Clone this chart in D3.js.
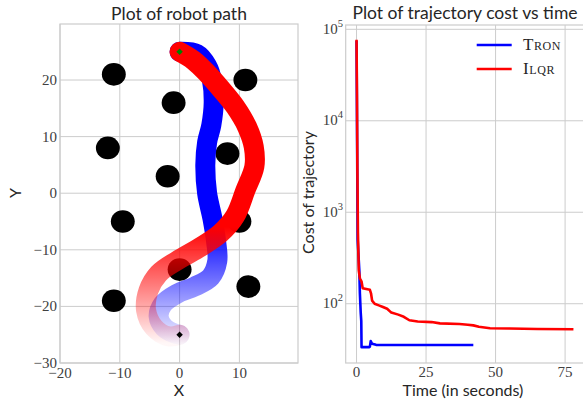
<!DOCTYPE html>
<html>
<head>
<meta charset="utf-8">
<style>
  body { margin: 0; background: #fff; }
  .title, .label { font-family: Lato, "Open Sans", sans-serif; fill: #262626; }
  .tick text { font-family: "Liberation Serif", serif; fill: #404040; font-size: 15px; }
  .legend text { font-family: "Liberation Serif", serif; fill: #262626; font-size: 17px; font-variant: small-caps; letter-spacing: 0.6px; }
</style>
</head>
<body>
<svg width="583" height="407"></svg>
<script src="https://d3js.org/d3.v7.min.js"></script>
<script>
// obstacles (circle centres, radius in data units)
var obstacleX = [-11, 11, -1, -12, 8, -2, -9.5, 10, 0, 11.5, -11];
var obstacleY = [21, 20, 16, 8, 7, 3, -5, -5, -13.5, -16.5, -19];
var obstacleR = 2;

// robot paths, start (0,-25) -> goal (0,25)
var tronPathX = [0, -0.8, -2.6, -3.5, -2.8, -0.5, 2.5, 5.2, 6.3, 6.1, 5.5, 4.6, 4.3, 4.6, 5.3, 5.7, 5.4, 4.6, 2.9, 0];
var tronPathY = [-25, -24.8, -23.7, -21.8, -19.6, -17.8, -16.5, -14.8, -12, -8.5, -4.5, 0, 5, 9, 12, 16, 20, 22.5, 24.6, 25];
var ilqrPathX = [0, -1.8, -4.3, -5.6, -5.2, -3.5, -0.4, 3.5, 6.8, 9.3, 11, 12.5, 12.4, 11.3, 9.3, 7.1, 4.6, 2.3, 0];
var ilqrPathY = [-25, -25.3, -23.7, -20.7, -17.2, -14.2, -11.9, -9.5, -7.1, -4, 0.5, 4.7, 8.2, 11.7, 15.3, 18.2, 21.2, 23.5, 25];
var startPt = [0, -25], goalPt = [0, 25];

// cost vs time
var tronTime = [0, 0.2, 0.4, 1.0, 1.2, 1.5, 1.7, 1.8, 4.5, 4.8, 5.1, 5.6, 7, 42];
var tronCost = [75000, 6000, 500, 230, 130, 80, 65, 33.5, 33.5, 34, 39, 36.5, 35.5, 35.4];
var ilqrTime = [0, 0.15, 0.3, 0.5, 0.8, 1.2, 1.8, 2.2, 4.8, 5.2, 5.6, 6.5, 8, 9.5, 11, 12.5, 15, 17, 19, 22, 27, 30, 37, 40, 42, 44, 48, 55, 65, 78];
var ilqrCost = [77000, 20000, 3000, 600, 230, 190, 175, 148, 142, 130, 108, 100, 96, 92, 88, 80, 76, 72, 66, 64, 63, 61, 60, 59, 58, 56, 54, 53.5, 53, 52.5];

var xTicksL = [-20, -10, 0, 10], yTicksL = [-30, -20, -10, 0, 10, 20];
var xTicksR = [0, 25, 50, 75], yTicksR = [100, 1000, 10000, 100000];

var svg = d3.select("svg");
var gridColor = "#cccccc";

/** left panel: robot path **/
var xL = d3.scaleLinear().domain([-20, 19.8]).range([60, 298]);
var yL = d3.scaleLinear().domain([-30, 29.9]).range([363, 24]);

var left = svg.append("g");
left.append("g").selectAll("line").data(xTicksL).enter().append("line")
    .attr("x1", function(d) { return xL(d); }).attr("x2", function(d) { return xL(d); })
    .attr("y1", 24).attr("y2", 363).attr("stroke", gridColor);
left.append("g").selectAll("line").data(yTicksL).enter().append("line")
    .attr("y1", function(d) { return yL(d); }).attr("y2", function(d) { return yL(d); })
    .attr("x1", 60).attr("x2", 298).attr("stroke", gridColor);
left.append("rect").attr("x", 60).attr("y", 24).attr("width", 238).attr("height", 339)
    .attr("fill", "none").attr("stroke", gridColor).attr("stroke-width", 1.2);

left.append("g").attr("class", "tick").selectAll("text").data(xTicksL).enter().append("text")
    .attr("x", function(d) { return xL(d); }).attr("y", 378)
    .attr("text-anchor", "middle").text(function(d) { return d < 0 ? "\u2212" + (-d) : d; });
left.append("g").attr("class", "tick").selectAll("text").data(yTicksL).enter().append("text")
    .attr("x", 57).attr("y", function(d) { return yL(d) + 5; })
    .attr("text-anchor", "end").text(function(d) { return d < 0 ? "\u2212" + (-d) : d; });

// obstacles
left.append("g").selectAll("ellipse").data(obstacleX).enter().append("ellipse")
    .attr("cx", function(d) { return xL(d); })
    .attr("cy", function(d, i) { return yL(obstacleY[i]); })
    .attr("rx", xL(obstacleR) - xL(0))
    .attr("ry", yL(0) - yL(obstacleR))
    .attr("fill", "#000");

// fading gradients along the path
var defs = svg.append("defs");
[["fadeBlue", "#0000ff"], ["fadeRed", "#ff0000"]].forEach(function(g) {
  var lg = defs.append("linearGradient").attr("id", g[0])
      .attr("gradientUnits", "userSpaceOnUse")
      .attr("x1", 0).attr("x2", 0).attr("y1", yL(-26.5)).attr("y2", yL(-6));
  lg.append("stop").attr("offset", 0).attr("stop-color", g[1]).attr("stop-opacity", 0.03);
  lg.append("stop").attr("offset", 1).attr("stop-color", g[1]).attr("stop-opacity", 1);
});

var pathLine = d3.line().curve(d3.curveCatmullRom.alpha(0.5))
    .x(function(d) { return xL(d[0]); }).y(function(d) { return yL(d[1]); });

left.append("path")
    .attr("d", pathLine(d3.zip(tronPathX, tronPathY)))
    .attr("fill", "none").attr("stroke", "url(#fadeBlue)")
    .attr("stroke-width", 20).attr("stroke-linecap", "round").attr("stroke-linejoin", "round");
left.append("path")
    .attr("d", pathLine(d3.zip(ilqrPathX, ilqrPathY)))
    .attr("fill", "none").attr("stroke", "url(#fadeRed)")
    .attr("stroke-width", 20).attr("stroke-linecap", "round").attr("stroke-linejoin", "round");

var diamond = d3.symbol().type(d3.symbolDiamond2).size(26);
left.append("path").attr("d", diamond)
    .attr("transform", "translate(" + xL(goalPt[0]) + "," + yL(goalPt[1]) + ")")
    .attr("fill", "#008000");
left.append("path").attr("d", diamond)
    .attr("transform", "translate(" + xL(startPt[0]) + "," + yL(startPt[1]) + ")")
    .attr("fill", "#000");

left.append("text").attr("class", "title").attr("x", 179).attr("y", 19.5)
    .attr("text-anchor", "middle").attr("font-size", 17.5).text("Plot of robot path");
left.append("text").attr("class", "label").attr("x", 179).attr("y", 396)
    .attr("text-anchor", "middle").attr("font-size", 16).text("X");
left.append("text").attr("class", "label")
    .attr("transform", "translate(20.5,193) rotate(-90)")
    .attr("text-anchor", "middle").attr("font-size", 16).text("Y");

/** right panel: cost vs time **/
var xR = d3.scaleLinear().domain([-3.9, 81.8]).range([345.7, 584]);
var yR = d3.scaleLog().domain([Math.pow(10, 1.352), Math.pow(10, 5.047)]).range([363, 25]);

var right = svg.append("g");
right.append("g").selectAll("line").data(xTicksR).enter().append("line")
    .attr("x1", function(d) { return xR(d); }).attr("x2", function(d) { return xR(d); })
    .attr("y1", 25).attr("y2", 363).attr("stroke", gridColor);
right.append("g").selectAll("line").data(yTicksR).enter().append("line")
    .attr("y1", function(d) { return yR(d); }).attr("y2", function(d) { return yR(d); })
    .attr("x1", 345.7).attr("x2", 584).attr("stroke", gridColor);
right.append("rect").attr("x", 345.7).attr("y", 25).attr("width", 238.3).attr("height", 338)
    .attr("fill", "none").attr("stroke", gridColor).attr("stroke-width", 1.2);

right.append("g").attr("class", "tick").selectAll("text").data(xTicksR).enter().append("text")
    .attr("x", function(d) { return xR(d); }).attr("y", 377)
    .attr("text-anchor", "middle").text(function(d) { return d; });
var yt = right.append("g").attr("class", "tick").selectAll("text").data(yTicksR).enter().append("text")
    .attr("x", 343).attr("y", function(d) { return yR(d) + 4.7; })
    .attr("text-anchor", "end");
yt.append("tspan").text("10");
yt.append("tspan").attr("font-size", 10.5).attr("dy", -7)
    .text(function(d) { return Math.round(Math.log10(d)); });

var costLine = d3.line()
    .x(function(d) { return xR(d[0]); }).y(function(d) { return yR(d[1]); });
right.append("path").attr("d", costLine(d3.zip(tronTime, tronCost)))
    .attr("fill", "none").attr("stroke", "#0000ff").attr("stroke-width", 2.6)
    .attr("stroke-linejoin", "round");
right.append("path").attr("d", costLine(d3.zip(ilqrTime, ilqrCost)))
    .attr("fill", "none").attr("stroke", "#ff0000").attr("stroke-width", 2.6)
    .attr("stroke-linejoin", "round");

var legend = right.append("g").attr("class", "legend");
[["Tron", "#0000ff", 45], ["Ilqr", "#ff0000", 69]].forEach(function(l) {
  legend.append("line").attr("x1", 476.7).attr("x2", 511.7)
      .attr("y1", l[2]).attr("y2", l[2]).attr("stroke", l[1]).attr("stroke-width", 2.6);
  legend.append("text").attr("x", 523).attr("y", l[2] + 5).text(l[0]);
});

right.append("text").attr("class", "title").attr("x", 465).attr("y", 19)
    .attr("text-anchor", "middle").attr("font-size", 17.5).text("Plot of trajectory cost vs time");
right.append("text").attr("class", "label").attr("x", 463).attr("y", 395.5)
    .attr("text-anchor", "middle").attr("font-size", 16).text("Time (in seconds)");
right.append("text").attr("class", "label")
    .attr("transform", "translate(314,192.5) rotate(-90)")
    .attr("text-anchor", "middle").attr("font-size", 16).text("Cost of trajectory");
</script>
</body>
</html>
